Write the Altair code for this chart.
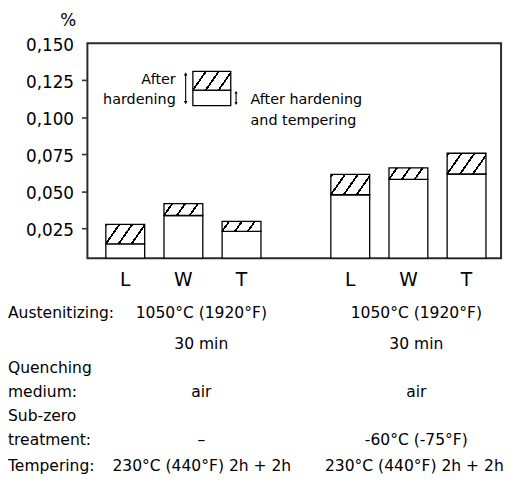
import math
import altair as alt

# ---------------- data ----------------
bar_group = ["A", "A", "A", "B", "B", "B"]
bar_material = ["L", "W", "T", "L", "W", "T"]
after_hardening = [0.0278, 0.0418, 0.0298, 0.0615, 0.0660, 0.0758]
after_tempering = [0.0147, 0.0338, 0.0231, 0.0478, 0.0582, 0.0618]
materials = ["L", "W", "T"]
y_ticks = [0.025, 0.050, 0.075, 0.100, 0.125, 0.150]
Y_MIN, Y_MAX = 0.005, 0.150

row_labels = ["Austenitizing:", "Quenching", "medium:", "Sub-zero", "treatment:", "Tempering:"]
col1_texts = ["1050°C (1920°F)", "30 min", "air", "–", "230°C (440°F) 2h + 2h"]
col2_texts = ["1050°C (1920°F)", "30 min", "air", "-60°C (-75°F)", "230°C (440°F) 2h + 2h"]

# ---------------- layout / style ----------------
W, H = 418.4, 217.3
PI, PO, ALIGN = 0.3106, 0.0745, 0.55
PI2, PO2 = 0.332, 0.0
FONT = "DejaVu Sans"
step = W / (2 - PI + 2 * PO)
bw = step * (1 - PI)
sub = bw / (3 - PI2 + 2 * PO2)
BAR_W = sub * (1 - PI2)
PPU = H / (Y_MAX - Y_MIN)


def hatch(w, h, theta_deg=55.0, spacing_h=13.0, lw=1.8):
    th = math.radians(theta_deg)
    s, c = math.sin(th), math.cos(th)
    pmax = w * s + h * c
    D = w * w * s * s + h * h * c * c
    lam = pmax / D
    x2, y2 = w * s * lam, h * c * lam
    perp = spacing_h * s
    p0 = h * c
    k = -int(p0 / perp) - 2
    intervals = []
    while True:
        p = p0 + k * perp
        if p - lw / 2 > pmax:
            break
        a = max(0.0, (p - lw / 2) / pmax)
        b = min(1.0, (p + lw / 2) / pmax)
        if b > a:
            intervals.append((a, b))
        k += 1
    stops = [{"offset": 0.0, "color": "#ffffff"}]
    for a, b in intervals:
        stops.append({"offset": a, "color": "#ffffff"})
        stops.append({"offset": a, "color": "#000000"})
        stops.append({"offset": b, "color": "#000000"})
        stops.append({"offset": b, "color": "#ffffff"})
    stops.append({"offset": 1.0, "color": "#ffffff"})
    return {"gradient": "linear", "x1": 0, "y1": 0, "x2": x2, "y2": y2, "stops": stops}


records = []
for g, m, hv, tv in zip(bar_group, bar_material, after_hardening, after_tempering):
    records.append({
        "group": g, "material": m, "hard": hv, "temp": tv,
        "grad": hatch(BAR_W, (hv - tv) * PPU),
    })
bars_data = alt.InlineData(values=records)

x_enc = alt.X("group:N", axis=None,
              scale=alt.Scale(paddingInner=PI, paddingOuter=PO, align=ALIGN))
xo_enc = alt.XOffset("material:N", sort=materials,
                     scale=alt.Scale(paddingInner=PI2, paddingOuter=PO2))
y_scale = alt.Scale(domain=[Y_MIN, Y_MAX], clamp=True, nice=False, zero=False)

white_bars = alt.Chart(bars_data).mark_bar(
    fill="white", stroke="black", strokeWidth=1.3
).encode(
    x=x_enc, xOffset=xo_enc,
    y=alt.Y("temp:Q", scale=y_scale, axis=alt.Axis(
        values=y_ticks,
        labelExpr="replace(format(datum.value, '.3f'), '.', ',')",
        title=None, grid=False, domain=False,
        tickSize=6, tickWidth=1.6,
        tickColor={"condition": {"test": "datum.value >= 0.149", "value": "transparent"}, "value": "#333333"},
        labelFontSize=17, labelPadding=8, labelColor="black", labelOffset=2,
        labelFont=FONT,
    )),
)

hatched_bars = alt.Chart(bars_data).mark_bar(
    stroke="black", strokeWidth=1.3
).encode(
    x=x_enc, xOffset=xo_enc,
    y=alt.Y("hard:Q", scale=y_scale),
    y2="temp:Q",
    fill=alt.Fill("grad:N", scale=None),
)

cat_labels = alt.Chart(bars_data).mark_text(
    fontSize=19, font=FONT, color="black", baseline="middle"
).encode(
    x=x_enc, xOffset=xo_enc, y=alt.value(239), text="material:N"
)

# ---------------- legend (annotation) ----------------
one = alt.InlineData(values=[{"a": 0}])
LX1, LX2 = 106.7, 145.0
LYT, LYM, LYB = 28.3, 47.3, 63.0
leg_white = alt.Chart(one).mark_rect(fill="white", stroke="black", strokeWidth=1.3).encode(
    x=alt.value(LX1), x2=alt.value(LX2), y=alt.value(LYM), y2=alt.value(LYB))
leg_hatch = alt.Chart(one).mark_rect(
    fill=hatch(LX2 - LX1, LYM - LYT), stroke="black", strokeWidth=1.3
).encode(x=alt.value(LX1), x2=alt.value(LX2), y=alt.value(LYT), y2=alt.value(LYM))


def arrow(x, y1, y2, head):
    rule = alt.Chart(one).mark_rule(color="black", strokeWidth=1.1).encode(
        x=alt.value(x), y=alt.value(y1 + 2), y2=alt.value(y2 - 2))
    up = alt.Chart(one).mark_point(shape="triangle-up", filled=True, color="black",
                                   size=head, opacity=1).encode(
        x=alt.value(x), y=alt.value(y1 + 2))
    dn = alt.Chart(one).mark_point(shape="triangle-down", filled=True, color="black",
                                   size=head, opacity=1).encode(
        x=alt.value(x), y=alt.value(y2 - 2))
    return [rule, up, dn]


arrows = arrow(99.4, 29, 62, 14) + arrow(150.4, 47.5, 63, 10)

leg_text_data = alt.InlineData(values=[
    {"t": "After", "x": 89.4, "y": 37.5, "al": "right"},
    {"t": "hardening", "x": 89.4, "y": 57.5, "al": "right"},
    {"t": "After hardening", "x": 165.0, "y": 57.5, "al": "left"},
    {"t": "and tempering", "x": 165.0, "y": 79.0, "al": "left"},
])
leg_right = alt.Chart(leg_text_data).transform_filter("datum.al == 'right'").mark_text(
    fontSize=14.5, font=FONT, color="black", align="right", baseline="middle"
).encode(x=alt.X("x:Q", scale=None), y=alt.Y("y:Q", scale=None), text="t:N")
leg_left = alt.Chart(leg_text_data).transform_filter("datum.al == 'left'").mark_text(
    fontSize=14.5, font=FONT, color="black", align="left", baseline="middle"
).encode(x=alt.X("x:Q", scale=None), y=alt.Y("y:Q", scale=None), text="t:N")

pct = alt.Chart(one).mark_text(text="%", fontSize=17, font=FONT, color="black",
                               baseline="middle").encode(x=alt.value(-19.3), y=alt.value(-23))

# ---------------- conditions table ----------------
ROW_LABEL_X = -80.3
row_label_y = [273.3, 328.0, 352.3, 376.7, 401.7, 427.3]
COL1_X, COL2_X = 115.2, 332.7
val_y = [273.3, 304.0, 352.3, 401.7, 427.3]
val_x1 = [COL1_X, COL1_X, COL1_X, COL1_X, 115.7]
val_x2 = [COL2_X, COL2_X, COL2_X, COL2_X, 330.7]

lab_rows = [{"t": t, "x": ROW_LABEL_X, "y": y} for t, y in zip(row_labels, row_label_y)]
val_rows = ([{"t": t, "x": x, "y": y} for t, x, y in zip(col1_texts, val_x1, val_y)] +
            [{"t": t, "x": x, "y": y} for t, x, y in zip(col2_texts, val_x2, val_y)])

row_lab_chart = alt.Chart(alt.InlineData(values=lab_rows)).mark_text(
    fontSize=15.7, font=FONT, color="black", align="left", baseline="middle"
).encode(x=alt.X("x:Q", scale=None), y=alt.Y("y:Q", scale=None), text="t:N")
val_chart = alt.Chart(alt.InlineData(values=val_rows)).mark_text(
    fontSize=15.7, font=FONT, color="black", align="center", baseline="middle"
).encode(x=alt.X("x:Q", scale=None), y=alt.Y("y:Q", scale=None), text="t:N")

chart = alt.layer(
    white_bars, hatched_bars, cat_labels,
    leg_white, leg_hatch, *arrows, leg_right, leg_left, pct,
    row_lab_chart, val_chart,
).resolve_scale(x="shared").properties(
    width=W, height=H,
    autosize=alt.AutoSizeParams(type="none"),
    padding={"left": 80.3, "top": 33, "right": 5, "bottom": 225},
).configure(font=FONT).configure_view(
    stroke="#2a2a2a", strokeWidth=2
)

chart.save("out.html", embed_options={"renderer": "svg", "actions": False})
